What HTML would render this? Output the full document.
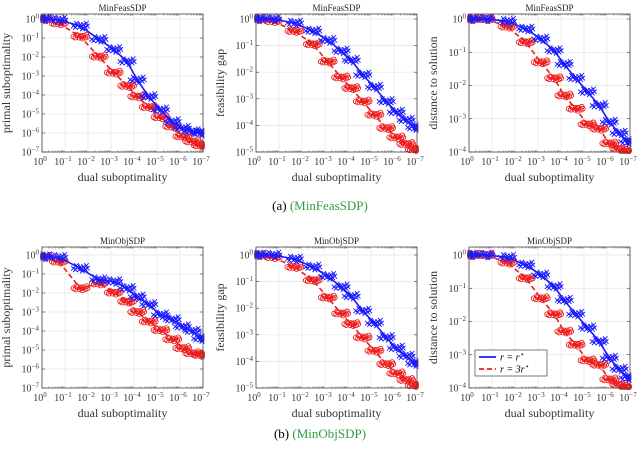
<!DOCTYPE html>
<html><head><meta charset="utf-8"><style>
body{margin:0;background:#fff}
svg{display:block;font-family:"Liberation Serif",serif}
</style></head><body>
<svg id="fig" width="640" height="451" viewBox="0 0 640 451">
<text x="320" y="210" text-anchor="middle" font-size="13">(a) <tspan fill="#2e9e3e">(MinFeasSDP)</tspan></text>
<text x="320" y="438" text-anchor="middle" font-size="13">(b) <tspan fill="#2e9e3e">(MinObjSDP)</tspan></text>
</svg>
<script>
// dual suboptimality exponents (log10), shared x positions of iterate clusters
const xExp = [-0.07,-0.73,-1.67,-2.47,-3.12,-3.7,-4.14,-4.64,-5.15,-5.66,-6.1,-6.53,-6.9];
// series values (log10)
const a1Blue = [0,-0.05,-0.37,-1.07,-1.6,-2.24,-3.2,-4.08,-4.78,-5.4,-5.75,-5.92,-6.0];
const a1Red  = [0,-0.23,-0.93,-1.98,-2.82,-3.52,-4.08,-4.64,-5.17,-5.66,-6.18,-6.44,-6.65];
const a2Blue = [0,0,-0.15,-0.45,-0.8,-1.2,-1.55,-2.1,-2.56,-3.1,-3.5,-3.8,-4.08];
const a2Red  = [0,-0.08,-0.45,-0.95,-1.6,-2.2,-2.6,-3.1,-3.6,-4.1,-4.45,-4.7,-4.9];
const a3Blue = [0,0,-0.07,-0.3,-0.6,-0.95,-1.36,-1.78,-2.19,-2.6,-3.1,-3.43,-3.69];
const a3Red  = [0,0,-0.23,-0.7,-1.3,-1.78,-2.3,-2.7,-3.17,-3.3,-3.74,-3.9,-4.0];
const b1Blue = [-0.09,-0.12,-0.7,-1.3,-1.4,-1.75,-2.2,-2.6,-3.15,-3.4,-3.77,-4.0,-4.4];
const b1Red  = [-0.09,-0.35,-1.75,-1.5,-1.98,-2.45,-3.0,-3.5,-3.95,-4.44,-4.9,-5.17,-5.26];
const b2Blue = [0,0,-0.15,-0.45,-0.8,-1.2,-1.55,-2.1,-2.56,-3.1,-3.5,-3.8,-4.08];
const b2Red  = [0,-0.08,-0.45,-0.95,-1.6,-2.2,-2.6,-3.1,-3.6,-4.1,-4.45,-4.7,-4.9];
const b3Blue = [0,0,-0.07,-0.3,-0.6,-0.95,-1.36,-1.78,-2.19,-2.6,-3.1,-3.43,-3.69];
const b3Red  = [0,0,-0.23,-0.7,-1.3,-1.78,-2.3,-2.7,-3.17,-3.3,-3.74,-3.9,-4.0];
const xTicks = [0,-1,-2,-3,-4,-5,-6,-7];

const NS='http://www.w3.org/2000/svg';
const svg=document.getElementById('fig');
function mk(tag,attrs,parent){const e=document.createElementNS(NS,tag);for(const k in attrs)e.setAttribute(k,attrs[k]);(parent||svg).appendChild(e);return e;}
// cluster spread pattern (pixel offsets, styling only)
const spread=[[-7,0],[-5,1],[-3,-1],[-1,1],[1,0],[3,-1],[5,1],[7,0],[-4,-2],[2,2],[6,-2],[0,-1]];

const panels=[
 {name:'a1',L:42,T:14,y0:19,B:152,dec:7,title:'MinFeasSDP',yl:'primal suboptimality',blue:a1Blue,red:a1Red,lx:10},
 {name:'a2',L:256,T:14,y0:19,B:152,dec:5,title:'MinFeasSDP',yl:'feasibility gap',blue:a2Blue,red:a2Red,lx:224},
 {name:'a3',L:469,T:14,y0:19,B:152,dec:4,title:'MinFeasSDP',yl:'distance to solution',blue:a3Blue,red:a3Red,lx:437},
 {name:'b1',L:42,T:247,y0:255,B:388,dec:7,title:'MinObjSDP',yl:'primal suboptimality',blue:b1Blue,red:b1Red,lx:10},
 {name:'b2',L:256,T:247,y0:255,B:388,dec:5,title:'MinObjSDP',yl:'feasibility gap',blue:b2Blue,red:b2Red,lx:224},
 {name:'b3',L:469,T:247,y0:255,B:388,dec:4,title:'MinObjSDP',yl:'distance to solution',blue:b3Blue,red:b3Red,lx:437,legend:true}
];
const W=161;
panels.forEach(p=>{
 const g=mk('g',{});
 
 
 const R=p.L+W;
 const xs=e=>p.L+(-e)/7*W;
 const ys=e=>p.y0+(-e)/p.dec*(p.B-p.y0);
 for(let d=0;d<=7;d++){
  const x=xs(-d);
  mk('line',{x1:x,x2:x,y1:p.T,y2:p.B,stroke:'#e4e4e4','stroke-width':0.7},g);
  for(let m=2;m<=9&&d<7;m++){const xm=xs(-d-Math.log10(m));
   mk('line',{x1:xm,x2:xm,y1:p.B,y2:p.B-1.5,stroke:'#333','stroke-width':0.5},g);
   mk('line',{x1:xm,x2:xm,y1:p.T,y2:p.T+1.5,stroke:'#333','stroke-width':0.5},g);}
 }
 for(let d=0;d<=p.dec;d++){
  const y=ys(-d);
  mk('line',{x1:p.L,x2:R,y1:y,y2:y,stroke:'#e4e4e4','stroke-width':0.7},g);
  mk('line',{x1:p.L,x2:p.L+3,y1:y,y2:y,stroke:'#333','stroke-width':0.6},g);
  mk('line',{x1:R,x2:R-3,y1:y,y2:y,stroke:'#333','stroke-width':0.6},g);
  const t=mk('text',{x:p.L-3,y:y+3.5,'text-anchor':'end','font-size':10,fill:'#333'},g);
  
  
  t.innerHTML='10<tspan dy="-4" font-size="7">'+(d===0?'0':'−'+d)+'</tspan>';
 }
 xTicks.forEach(e=>{
  const t=mk('text',{x:xs(e)-2,y:p.B+13,'text-anchor':'middle','font-size':10,fill:'#333'},g);
  
  
  t.innerHTML='10<tspan dy="-4" font-size="7">'+(e===0?'0':'−'+(-e))+'</tspan>';
 });
 const drawSeries=(vals,color,isBlue)=>{
  const s=mk('g',{},g);
  
  
  vals.forEach((v,i)=>{
   const cx=xs(xExp[i]),cy=ys(v);
   spread.forEach(([dx,dy])=>{
    const px=Math.min(R-1,Math.max(p.L+1,cx+dx)),py=Math.min(p.B-1,cy+dy*(isBlue?1.4:1));
    if(isBlue){mk('path',{d:`M${px-2.3},${py-2.3}L${px+2.3},${py+2.3}M${px-2.3},${py+2.3}L${px+2.3},${py-2.3}`,stroke:color,'stroke-width':0.9},s);}
    else mk('circle',{cx:px,cy:py,r:2.4,fill:'none',stroke:color,'stroke-width':0.9},s);
   });
  });
  const d=vals.map((v,i)=>(i?'L':'M')+xs(xExp[i]).toFixed(1)+','+ys(v).toFixed(1)).join('');
  mk('path',{d:d,fill:'none',stroke:color,'stroke-width':1.6,'stroke-dasharray':isBlue?'':'5,3'},s);
 };
 drawSeries(p.red,'#ee1c1c',false);
 drawSeries(p.blue,'#1a1aff',true);
 mk('rect',{x:p.L,y:p.T,width:W,height:p.B-p.T,fill:'none',stroke:'#444','stroke-width':0.8},g);
 const ti=mk('text',{x:p.L+W/2,y:p.T-3,'text-anchor':'middle','font-size':9,fill:'#222'},g);
 
 
 ti.textContent=p.title;
 const xl=mk('text',{x:p.L+W/2,y:p.B+29,'text-anchor':'middle','font-size':12,fill:'#333'},g);
 
 
 xl.textContent='dual suboptimality';
 const yc=(p.T+p.B)/2;
 const yl=mk('text',{x:p.lx,y:yc,'text-anchor':'middle','font-size':12,fill:'#333',transform:`rotate(-90 ${p.lx} ${yc})`},g);
 
 
 yl.textContent=p.yl;
 if(p.legend){
  const lg=mk('g',{},g);
  
  
  mk('rect',{x:475,y:350,width:72,height:26,fill:'#fff',stroke:'#444','stroke-width':0.7},lg);
  mk('line',{x1:479,x2:496,y1:357,y2:357,stroke:'#1a1aff','stroke-width':1.8},lg);
  mk('line',{x1:479,x2:496,y1:369,y2:369,stroke:'#ee1c1c','stroke-width':1.8,'stroke-dasharray':'5,3'},lg);
  const t1=mk('text',{x:500,y:360.5,'font-size':10,'font-style':'italic'},lg);t1.innerHTML='r = r<tspan dy="-4" font-size="7">⋆</tspan>';
  const t2=mk('text',{x:500,y:372.5,'font-size':10,'font-style':'italic'},lg);t2.innerHTML='r = 3r<tspan dy="-4" font-size="7">⋆</tspan>';
 }
});
</script>
</body></html>
